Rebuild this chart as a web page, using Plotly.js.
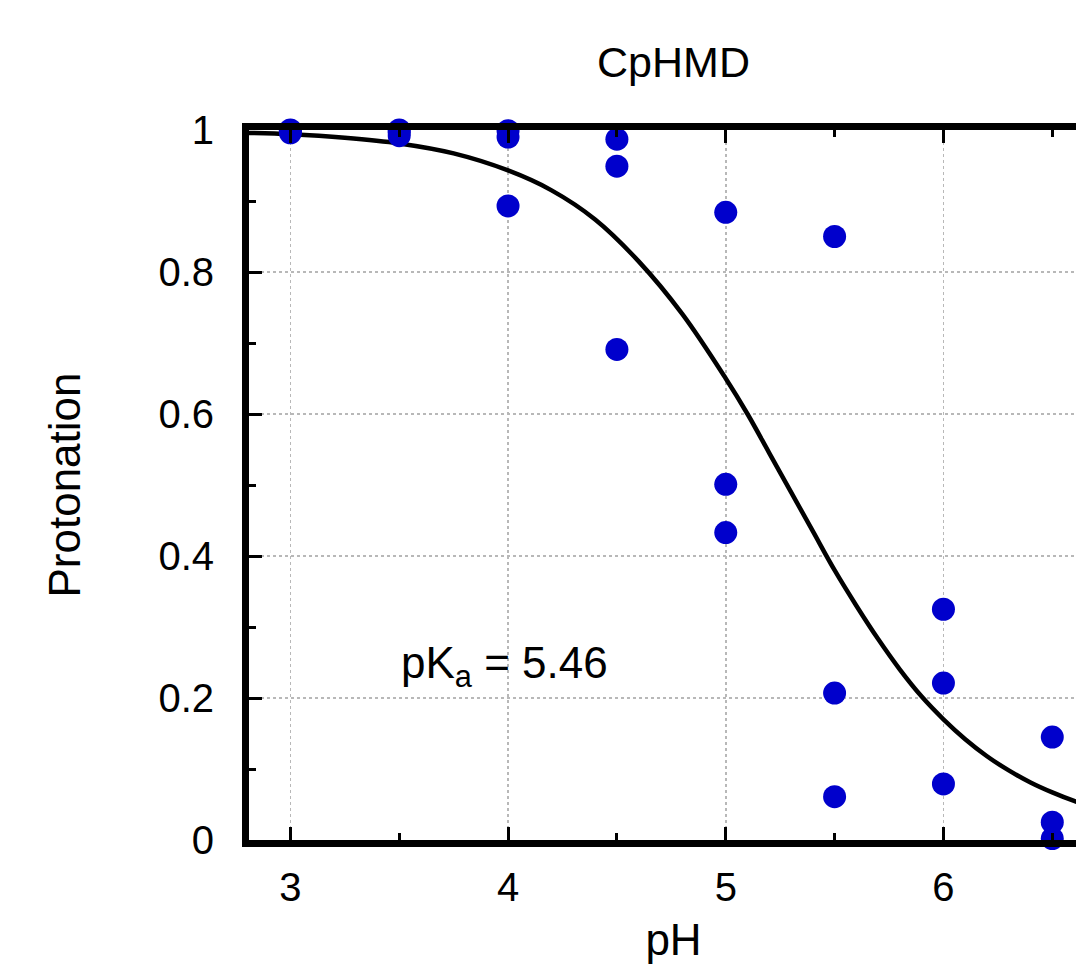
<!DOCTYPE html>
<html>
<head>
<meta charset="utf-8">
<script src="https://cdn.plot.ly/plotly-3.0.1.min.js"></script>
<style>
html,body{margin:0;padding:0;overflow:hidden;background:#fff;}
#chart{width:1120px;height:964px;}
</style>
</head>
<body>
<div id="chart"></div>
<script>
// Simulation points (pH, protonation fraction)
const simPH = [3,3,3, 3.5,3.5,3.5, 4,4,4, 4.5,4.5,4.5, 5,5,5, 5.5,5.5,5.5, 6,6,6, 6.5,6.5,6.5];
const simProt = [1.0,0.999,0.996, 1.0,0.997,0.992, 0.999,0.990,0.893, 0.987,0.949,0.691,
                 0.884,0.501,0.433, 0.850,0.207,0.061, 0.325,0.221,0.079, 0.145,0.025,0.002];

// Fitted titration curve
const fitPH = [2.8, 3.0, 3.25, 3.5, 3.75, 4.0, 4.2, 4.4, 4.6, 4.8, 5.0, 5.1, 5.2, 5.3, 5.4, 5.5,
               5.6, 5.7, 5.8, 5.9, 6.0, 6.1, 6.2, 6.3, 6.4, 6.5, 6.6, 6.7];
const fitProt = [0.996, 0.994, 0.989, 0.981, 0.967, 0.943, 0.915, 0.874, 0.815, 0.741, 0.650, 0.600,
                 0.545, 0.490, 0.435, 0.380, 0.330, 0.283, 0.240, 0.202, 0.170, 0.142, 0.118, 0.098,
                 0.081, 0.067, 0.055, 0.045];

const titleText = 'CpHMD';
const xTitle = 'pH';
const yTitle = 'Protonation';
const pkaLabel = 'pK<sub>a</sub> = 5.46';
const pkaPos = [3.5, 0.245];

const FONT = 'Liberation Sans, Arial, Helvetica, sans-serif';

const traces = [
  {
    x: fitPH, y: fitProt, type: 'scatter', mode: 'lines',
    line: {color: '#000000', width: 4.5, shape: 'spline', smoothing: 1},
    hoverinfo: 'skip', showlegend: false
  },
  {
    x: simPH, y: simProt, type: 'scatter', mode: 'markers',
    marker: {color: '#0000cc', size: 23, line: {width: 0}},
    cliponaxis: false, showlegend: false
  }
];

const axisCommon = {
  showline: true, linecolor: '#000', linewidth: 7, mirror: 'allticks',
  ticks: 'inside', ticklen: 13, tickwidth: 3, tickcolor: '#000',
  showgrid: true, gridcolor: '#b8b8b8', gridwidth: 1.5, griddash: 'dot',
  zeroline: false,
  tickfont: {family: FONT, size: 40, color: '#000'},
};

const layout = {
  width: 1120, height: 964,
  paper_bgcolor: '#fff', plot_bgcolor: '#fff',
  margin: {l: 249, r: 22, t: 130, b: 124},
  font: {family: FONT, color: '#000'},
  title: {
    text: titleText, font: {family: FONT, size: 43, color: '#000'},
    x: 0.5, xref: 'paper', xanchor: 'center',
    y: 1 - 62/964, yref: 'container', yanchor: 'middle'
  },
  xaxis: Object.assign({}, axisCommon, {
    range: [2.81, 6.71], dtick: 1, tick0: 3,
    minor: {dtick: 0.5, ticks: 'inside', ticklen: 7, tickwidth: 3, tickcolor: '#000', showgrid: false},
    ticklabelstandoff: 6,
    title: {text: xTitle, font: {family: FONT, size: 44, color: '#000'}, standoff: 50}
  }),
  yaxis: Object.assign({}, axisCommon, {
    range: [0, 1], dtick: 0.2, tick0: 0,
    tickvals: [0, 0.2, 0.4, 0.6, 0.8, 1], ticktext: ['0', '0.2', '0.4', '0.6', '0.8', '1'],
    minor: {dtick: 0.1, ticks: 'inside', ticklen: 7, tickwidth: 3, tickcolor: '#000', showgrid: false},
    ticklabelstandoff: 20,
    title: {text: yTitle, font: {family: FONT, size: 44, color: '#000'}, standoff: 66}
  }),
  annotations: [{
    x: pkaPos[0], y: pkaPos[1], xref: 'x', yref: 'y',
    text: pkaLabel, showarrow: false, xanchor: 'left', yanchor: 'middle',
    font: {family: FONT, size: 44, color: '#000'}
  }]
};

Plotly.newPlot('chart', traces, layout, {displayModeBar: false, staticPlot: true});
</script>
</body>
</html>
